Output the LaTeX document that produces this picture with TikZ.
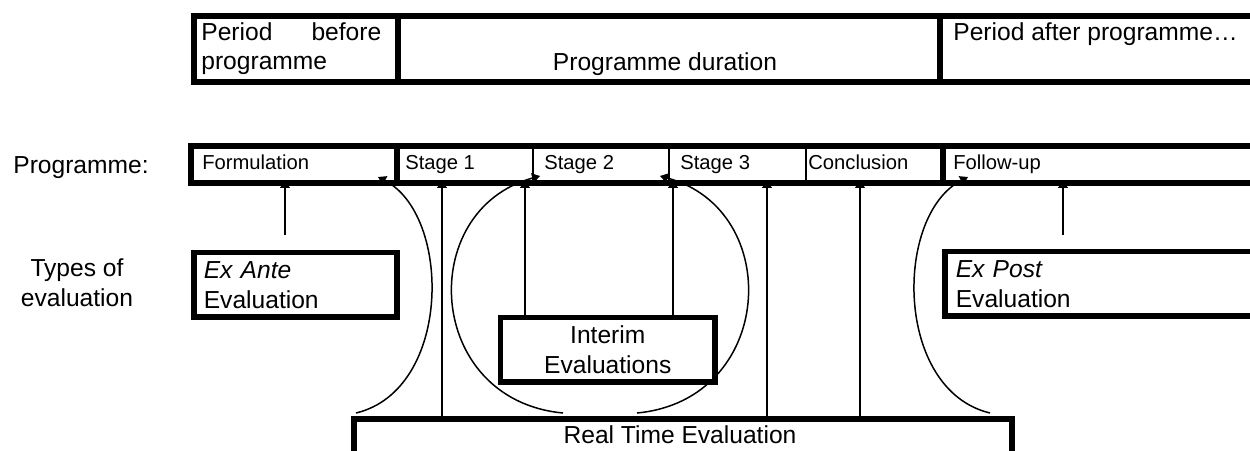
\documentclass[tikz,border=0pt]{standalone}
\usepackage{fontspec}
\setmainfont{Liberation Sans}
\usetikzlibrary{arrows.meta}
\begin{document}
\begin{tikzpicture}[x=0.02cm,y=-0.02cm,
  thickbox/.style={draw, line width=3.2pt, inner sep=0pt},
  thickline/.style={line width=3.2pt},
  cellbox/.style={draw, line width=1pt, inner sep=0pt, anchor=north west, minimum height=0.7cm},
  big/.style={font=\fontsize{14}{17}\selectfont, inner sep=0pt},
  small/.style={font=\fontsize{11.5}{13}\selectfont, inner sep=0pt},
  arr/.style={line width=0.85pt, -{Triangle[width=5.5pt,length=4.5pt]}},
]
\useasboundingbox (0,0) rectangle (1250,450);
\clip (0,0) rectangle (1250,450);
\fill[white] (0,0) rectangle (1250,450);

% ---- top bar ----
\node[thickbox, anchor=north west, minimum width=4.08cm, minimum height=1.32cm] (before) at (191,13) {};
\node[thickbox, anchor=north west, minimum width=10.84cm, minimum height=1.32cm] (during) at (395,13) {};
\node[thickbox, anchor=north west, minimum width=6.66cm, minimum height=1.32cm] (after) at (937,13) {};
\node[big, anchor=base west, text width=3.6cm, align=justify] (beforetxt) at (201,40) {Period before programme};
\node[big, anchor=base] (duringtxt) at (665,70) {Programme duration};
\node[big, anchor=base west] (aftertxt) at (953,40) {Period after programme…};

% ---- programme bar ----
\node[cellbox, minimum width=4.08cm] (form) at (191,146) {};
\node[cellbox, minimum width=2.74cm] (stage1) at (395,146) {};
\node[cellbox, minimum width=2.72cm] (stage2) at (532,146) {};
\node[cellbox, minimum width=2.74cm] (stage3) at (668,146) {};
\node[cellbox, minimum width=2.72cm] (concl) at (805,146) {};
\node[cellbox, minimum width=6.58cm] (follow) at (941,146) {};
\draw[thickline] (form.north west) rectangle (follow.south east);
\draw[thickline] (form.north east) -- (form.south east);
\draw[thickline] (concl.north east) -- (concl.south east);
\node[small, anchor=base west] (formtxt) at (202,169) {Formulation};
\node[small, anchor=base west] (s1txt) at (405,169) {Stage 1};
\node[small, anchor=base west] (s2txt) at (544,169) {Stage 2};
\node[small, anchor=base west] (s3txt) at (680,169) {Stage 3};
\node[small, anchor=base west] (conctxt) at (808,169) {Conclusion};
\node[small, anchor=base west] (followtxt) at (953,169) {Follow-up};

% ---- left labels ----
\node[big, anchor=base west] (proglbl) at (13,173) {Programme:};
\node[big, anchor=north, align=center] (typeslbl) at (77,258) {Types of\\evaluation};

% ---- evaluation boxes ----
\node[thickbox, big, anchor=north west, minimum height=1.3cm, text width=3.66cm, inner xsep=0.2cm, align=left] (exante) at (191,249.5) {\textit{Ex Ante}\\Evaluation};
\node[thickbox, big, anchor=north west, minimum height=1.3cm, text width=6cm, inner xsep=0.22cm, align=left] (expost) at (942,248.5) {\textit{Ex Post}\\Evaluation};
\node[thickbox, big, anchor=north west, minimum width=4.3cm, minimum height=1.3cm, align=center] (interim) at (497.5,314.5) {Interim\\Evaluations};
\node[thickbox, anchor=north west, minimum width=13.16cm, minimum height=0.8cm] (realtime) at (351,416) {};
\node[big, anchor=base] (realtimetxt) at (680,443) {Real Time Evaluation};

% ---- arrow end points ----
\coordinate (antetail) at (285,235);
\coordinate (posttail) at (1063,235);
\coordinate (t285) at (285,180);
\coordinate (t442) at (442,180);
\coordinate (t525) at (525,180);
\coordinate (t673) at (673,180);
\coordinate (t767) at (767,180);
\coordinate (t860) at (860,180);
\coordinate (t1063) at (1063,180);

\draw[arr] (antetail) -- (t285);
\draw[arr] (posttail) -- (t1063);
\draw[arr] (realtime.north -| t442) -- (t442);
\draw[arr] (interim.north -| t525) -- (t525);
\draw[arr] (interim.north -| t673) -- (t673);
\draw[arr] (realtime.north -| t767) -- (t767);
\draw[arr] (realtime.north -| t860) -- (t860);

% ---- curved arrows ----
\coordinate (cA0) at (356,413);
\coordinate (cA1) at (378,177);
\coordinate (cB0) at (563,413);
\coordinate (cB1) at (540,176);
\coordinate (cC0) at (637,413);
\coordinate (cC1) at (660,176);
\coordinate (cD0) at (990,413);
\coordinate (cD1) at (968,177);
\draw[arr] (cA0) .. controls (452,390) and (452,215) .. (cA1);
\draw[arr] (cB0) .. controls (425,400) and (415,210) .. (cB1);
\draw[arr] (cC0) .. controls (775,400) and (785,210) .. (cC1);
\draw[arr] (cD0) .. controls (894,390) and (894,215) .. (cD1);
\end{tikzpicture}
\end{document}
